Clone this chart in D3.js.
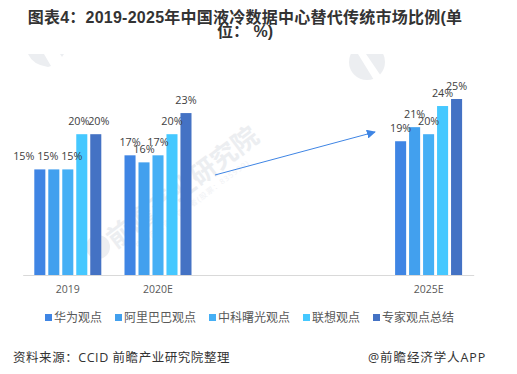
<!DOCTYPE html>
<html>
<head>
<meta charset="utf-8">
<script src="https://cdn.jsdelivr.net/npm/d3@7"></script>
<style>
  html, body { margin: 0; padding: 0; background: #fff; }
  svg { display: block; }
  text { font-family: "Open Sans", "Noto Sans CJK SC", sans-serif; }
  .title { font-family: "Liberation Sans", "Noto Sans CJK SC", sans-serif; }
</style>
</head>
<body>
<div id="chart"></div>
<script>
// categories 3 and 4 are the empty slots between 2020E and 2025E
const categories = ["2019", "2020E", "gap1", "gap2", "2025E"];
const seriesNames = ["华为观点", "阿里巴巴观点", "中科曙光观点", "联想观点", "专家观点总结"];
const huawei = [15, 17, null, null, 19];
const alibaba = [15, 16, null, null, 21];
const sugon = [15, 17, null, null, 20];
const lenovo = [20, 20, null, null, 24];
const experts = [20, 23, null, null, 25];
const titleLines = ["图表4：2019-2025年中国液冷数据中心替代传统市场比例(单", "位： %)"];
const sourceText = "资料来源：CCID 前瞻产业研究院整理";
const brandText = "@前瞻经济学人APP";
const watermarkText = "前瞻产业研究院";
const watermarkSub = "中国产业咨询领导者(股票：835999)";

const allSeries = [huawei, alibaba, sugon, lenovo, experts];
const colors = ["#3f85e4", "#42a0ee", "#45aff5", "#45c8ff", "#4472c4"];

const width = 517, height = 374;
const baseline = 275;

const svg = d3.select("#chart").append("svg")
  .attr("width", width)
  .attr("height", height);

/* Watermark, sits behind the bars */
const mark = svg.append("g").attr("fill", "#eceef1");
mark.append("text")
  .attr("transform", "translate(184,189) rotate(-37)")
  .attr("text-anchor", "middle")
  .attr("dominant-baseline", "middle")
  .attr("font-size", 26)
  .attr("font-weight", "bold")
  .text(watermarkText);
mark.append("text")
  .attr("transform", "translate(194,206) rotate(-37)")
  .attr("text-anchor", "middle")
  .attr("font-size", 7.5)
  .attr("letter-spacing", 1)
  .attr("fill", "#f1f2f5")
  .text(watermarkSub);
mark.append("circle").attr("cx", 367).attr("cy", 62).attr("r", 18);
mark.append("rect").attr("x", 340).attr("y", 30).attr("width", 60).attr("height", 24).attr("fill", "#fff");
mark.append("path")
  .attr("d", "M358 54 L374 80 L381 76 L366 54 Z")
  .attr("fill", "#fff");
mark.append("path").attr("d", "M28 54 Q33 65 48 67 L51 66 L44 54 Z");
mark.append("path").attr("d", "M60 54 L64 54 L62 57 Z");
mark.append("circle").attr("cx", 98).attr("cy", 247).attr("r", 12);

/* Scales */
const x = d3.scaleBand()
  .domain(categories)
  .range([22.7, 473.7]);

const x1 = d3.scaleBand()
  .domain(d3.range(seriesNames.length))
  .range([x.bandwidth() / 2 - 33.5, x.bandwidth() / 2 + 33.5])
  .paddingInner(0.21);

const y = d3.scaleLinear()
  .domain([0, 25])
  .range([baseline, 99]);

/* Bars and labels */
allSeries.forEach((values, s) => {
  const rows = categories
    .map((c, i) => ({ cat: c, value: values[i] }))
    .filter(d => d.value !== null);

  svg.append("g").selectAll("rect")
    .data(rows).enter()
    .append("rect")
    .attr("x", d => x(d.cat) + x1(s))
    .attr("y", d => y(d.value))
    .attr("width", x1.bandwidth())
    .attr("height", d => baseline - y(d.value))
    .attr("fill", colors[s]);
});

// the 2019 labels were pushed sideways in the original so they do not collide
const nudge2019 = [-16, -6, 4, -3, 3];

allSeries.forEach((values, s) => {
  const rows = categories
    .map((c, i) => ({ cat: c, value: values[i] }))
    .filter(d => d.value !== null);

  svg.append("g").selectAll("text")
    .data(rows).enter()
    .append("text")
    .attr("x", d => x(d.cat) + x1(s) + x1.bandwidth() / 2 + (d.cat === "2019" ? nudge2019[s] : 0))
    .attr("y", d => y(d.value) - 9)
    .attr("text-anchor", "middle")
    .attr("font-size", 10.8)
    .attr("fill", "#404040")
    .text(d => d.value + "%");
});

/* Axis */
const xAxis = svg.append("g")
  .attr("transform", `translate(0, ${baseline})`)
  .attr("font-family", null)
  .call(d3.axisBottom(x).tickSize(0).tickPadding(11)
    .tickFormat(d => d.startsWith("gap") ? "" : d));
xAxis.attr("font-family", null);
xAxis.select(".domain").attr("stroke", "#d9d9d9").attr("stroke-width", 1.2);
xAxis.selectAll("text")
  .attr("font-size", 10.5)
  .attr("fill", "#595959");

/* Arrow */
svg.append("defs").append("marker")
  .attr("id", "arrow")
  .attr("viewBox", "0 0 10 10")
  .attr("refX", 9).attr("refY", 5)
  .attr("markerUnits", "userSpaceOnUse")
  .attr("markerWidth", 9).attr("markerHeight", 9)
  .attr("orient", "auto")
  .append("path")
  .attr("d", "M0 0 L10 5 L0 10 Z")
  .attr("fill", "#3f85e4");

svg.append("line")
  .attr("x1", 215).attr("y1", 175)
  .attr("x2", 375).attr("y2", 132)
  .attr("stroke", "#3f85e4")
  .attr("stroke-width", 1)
  .attr("marker-end", "url(#arrow)");

/* Legend */
let legendX = 45;
seriesNames.forEach((name, i) => {
  svg.append("rect")
    .attr("x", legendX).attr("y", 314)
    .attr("width", 7).attr("height", 7)
    .attr("fill", colors[i]);
  svg.append("text")
    .attr("x", legendX + 9).attr("y", 322)
    .attr("font-size", 12)
    .attr("fill", "#595959")
    .text(name);
  legendX += 9 + name.length * 12 + 13;
});

/* Title */
svg.append("g").selectAll("text")
  .data(titleLines).enter()
  .append("text")
  .attr("class", "title")
  .attr("x", 245)
  .attr("y", (d, i) => 23 + i * 14)
  .attr("text-anchor", "middle")
  .attr("font-size", 16)
  .attr("font-weight", "bold")
  .attr("letter-spacing", (d, i) => i === 0 ? 0.25 : 0)
  .attr("fill", "#333")
  .text(d => d);

/* Footer */
svg.append("text")
  .attr("x", 13).attr("y", 362)
  .attr("font-size", 12.5)
  .attr("letter-spacing", 0.55)
  .attr("fill", "#333")
  .text(sourceText);

svg.append("text")
  .attr("x", 368).attr("y", 362)
  .attr("font-size", 12.5)
  .attr("letter-spacing", 0.9)
  .attr("fill", "#333")
  .text(brandText);
</script>
</body>
</html>
